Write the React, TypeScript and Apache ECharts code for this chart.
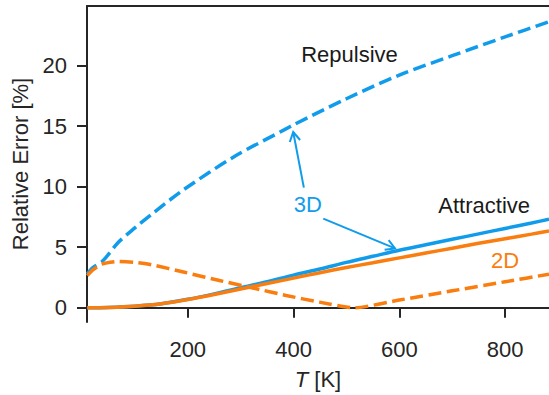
import React, { useEffect, useRef } from "react";
import * as echarts from "echarts";

// Temperature grids (K) and relative errors (%)
const T_REP_3D = [10, 20, 40, 68, 100, 131, 194, 289, 383, 400, 500, 600, 700, 800, 883];
const REP_3D = [2.78, 3.3, 3.9, 5.37, 6.6, 7.7, 9.8, 12.5, 14.7, 15.1, 17.25, 19.2, 20.8, 22.35, 23.6];

const T_REP_2D = [10, 20, 37, 68, 100, 131, 194, 260, 323, 386, 449, 515, 600, 700, 800, 883];
const REP_2D = [2.66, 3.1, 3.6, 3.83, 3.75, 3.56, 2.93, 2.25, 1.64, 1.02, 0.47, 0.0, 0.64, 1.4, 2.15, 2.77];

const T_ATT = [10, 50, 100, 150, 200, 250, 300, 350, 400, 450, 500, 550, 600, 650, 700, 750, 800, 850, 883];
const ATT_3D = [0, 0.03, 0.13, 0.33, 0.7, 1.15, 1.65, 2.15, 2.7, 3.2, 3.75, 4.25, 4.75, 5.2, 5.65, 6.1, 6.55, 7.0, 7.3];
const ATT_2D = [0, 0.03, 0.13, 0.33, 0.68, 1.1, 1.55, 2.0, 2.45, 2.9, 3.32, 3.72, 4.12, 4.52, 4.92, 5.32, 5.7, 6.08, 6.34];

const X_TICKS = [200, 400, 600, 800];
const Y_TICKS = [0, 5, 10, 15, 20];

// Annotations (data coordinates)
const LABELS = [
  { text: "Repulsive", at: [505.8, 20.9], color: "#1a1a1a" },
  { text: "Attractive", at: [760.4, 8.48], color: "#1a1a1a" },
  { text: "3D", at: [427.2, 8.56], color: "#119CEB" },
  { text: "2D", at: [800, 3.9], color: "#FA7D0F" },
];
const ARROWS = [
  { from: [419.5, 9.92], to: [399.4, 14.5] },
  { from: [456.2, 7.36], to: [591.9, 4.9] },
];

const BLUE = "#119CEB";
const ORANGE = "#FA7D0F";
const INK = "#262626";
const FONT = "Liberation Sans, Arial, sans-serif";
const FS = 22;

const zip = (xs: number[], ys: number[]) => xs.map((x, i) => [x, ys[i]]);

export default function App() {
  const ref = useRef<HTMLDivElement>(null);
  useEffect(() => {
    if (!ref.current) return;
    const chart = echarts.init(ref.current, undefined, { renderer: "svg" });
    const axisCommon = {
      type: "value" as const,
      splitLine: { show: false },
      axisLine: { show: true, lineStyle: { color: INK, width: 2 } },
    };
    chart.setOption({
      animation: false,
      backgroundColor: "#ffffff",
      grid: { left: 87, right: 0, top: 6, bottom: 70 },
      xAxis: [
        {
          ...axisCommon,
          min: 9.5,
          max: 883,
          axisTick: { show: true, inside: false, length: 10, lineStyle: { color: INK, width: 2 }, customValues: X_TICKS },
          axisLabel: { customValues: X_TICKS, fontSize: FS, color: INK, fontFamily: FONT, margin: 16 },
          name: "{it|T} [K]",
          nameLocation: "middle",
          nameGap: 46,
          nameTextStyle: {
            fontSize: FS,
            color: INK,
            fontFamily: FONT,
            rich: { it: { fontStyle: "italic", fontSize: FS, color: INK, fontFamily: FONT } },
          },
        },
        {
          ...axisCommon,
          position: "top",
          min: 9.5,
          max: 883,
          axisTick: { show: false },
          axisLabel: { show: false },
        },
      ],
      yAxis: {
        ...axisCommon,
        min: -1.17,
        max: 24.9,
        axisTick: { show: true, inside: false, length: 10, lineStyle: { color: INK, width: 2 }, customValues: Y_TICKS },
        axisLabel: { customValues: Y_TICKS, fontSize: FS, color: INK, fontFamily: FONT, margin: 20 },
        name: "Relative Error [%]",
        nameLocation: "middle",
        nameGap: 54,
        nameTextStyle: { fontSize: FS, color: INK, fontFamily: FONT },
      },
      series: [
        {
          type: "line",
          data: zip(T_ATT, ATT_3D),
          showSymbol: false,
          smooth: 0.3,
          lineStyle: { color: BLUE, width: 3.5 },
        },
        {
          type: "line",
          data: zip(T_REP_3D, REP_3D),
          showSymbol: false,
          smooth: 0.3,
          lineStyle: { color: BLUE, width: 3.5, type: [13, 5.5] },
        },
        {
          type: "line",
          data: zip(T_ATT, ATT_2D),
          showSymbol: false,
          smooth: 0.3,
          lineStyle: { color: ORANGE, width: 3.5 },
        },
        {
          type: "line",
          data: zip(T_REP_2D, REP_2D),
          showSymbol: false,
          smooth: 0.2,
          lineStyle: { color: ORANGE, width: 3.5, type: [13, 5.5] },
        },
      ],
    });

    const px = (p: number[]) => chart.convertToPixel({ gridIndex: 0 }, p) as number[];
    const graphics: any[] = [];
    LABELS.forEach((l) => {
      const [x, y] = px(l.at);
      graphics.push({
        type: "text",
        x,
        y,
        style: { text: l.text, fill: l.color, font: `${FS}px ${FONT}`, align: "center", verticalAlign: "middle" },
      });
    });
    ARROWS.forEach((a) => {
      const [x0, y0] = px(a.from);
      const [x1, y1] = px(a.to);
      const ang = Math.atan2(y0 - y1, x0 - x1);
      const L = 10.5;
      const s = Math.PI / 6;
      const h1 = [x1 + L * Math.cos(ang + s), y1 + L * Math.sin(ang + s)];
      const h2 = [x1 + L * Math.cos(ang - s), y1 + L * Math.sin(ang - s)];
      graphics.push({
        type: "line",
        shape: { x1: x0, y1: y0, x2: x1, y2: y1 },
        style: { stroke: BLUE, lineWidth: 2 },
      });
      graphics.push({
        type: "polyline",
        shape: { points: [h1, [x1, y1], h2] },
        style: { stroke: BLUE, lineWidth: 2, fill: "none" },
      });
    });
    chart.setOption({ graphic: graphics });

    return () => chart.dispose();
  }, []);
  return (
    <div
      ref={ref}
      style={{ position: "fixed", left: 0, top: 0, width: 549, height: 395, background: "#fff" }}
    />
  );
}
